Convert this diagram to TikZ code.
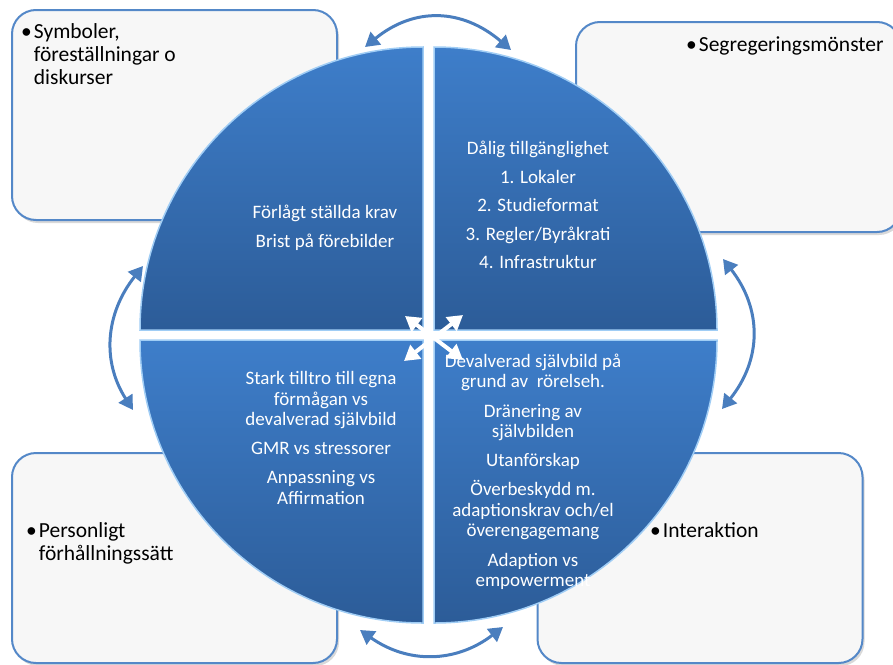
\documentclass[tikz,border=0pt]{standalone}
\usepackage{fontspec}
\setmainfont{Carlito}
\usetikzlibrary{arrows.meta}
\usetikzlibrary{shadows}
\definecolor{pblue}{RGB}{84,136,200}
\definecolor{pfill}{RGB}{247,247,247}
\definecolor{qlight}{RGB}{62,126,202}
\definecolor{qdark}{RGB}{44,92,152}
\definecolor{qedge}{RGB}{160,205,245}
\definecolor{ablue}{RGB}{74,126,190}

\begin{document}
\begin{tikzpicture}[x=1pt, y=-1pt,
    panel/.style={draw=pblue, line width=2pt, fill=pfill, rounded corners=24pt,
      drop shadow={opacity=0.3, shadow xshift=2pt, shadow yshift=-3pt},
      minimum width=325pt, minimum height=210pt, inner sep=0pt},
    quad/.style={top color=qlight, bottom color=qdark, draw=qedge, line width=1.5pt},
    intxt/.style={text=white, align=center, inner sep=0pt, font=\fontsize{19}{20.5}\selectfont},
    outtxt/.style={anchor=base west, inner sep=0pt, font=\fontsize{21.5}{23}\selectfont},
    cyc/.style={{Triangle[length=14pt, width=16pt]}-{Triangle[length=14pt, width=16pt]}, line width=3pt, draw=ablue},
    cross/.style={{Triangle[length=15pt, width=17pt]}-{Triangle[length=15pt, width=17pt]}, line width=4pt, draw=white}]
    \useasboundingbox (0, 0) rectangle (893, 664);

    \node [panel] (symb) at (174.5, 115) {};
    \node [panel] (segr) at (738.5, 127) {};
    \node [panel] (pers) at (174.5, 558) {};
    \node [panel] (inter) at (700, 558) {};

    \node [outtxt] (symbtxt) at (21, 38) {\textbullet\hspace{2pt}\begin{tabular}[t]{@{}l@{}}Symboler,\\föreställningar o\\diskurser\end{tabular}};
    \node [outtxt] (segrtxt) at (686, 51) {\textbullet\hspace{2pt}Segregeringsmönster};
    \node [outtxt] (perstxt) at (26, 537) {\textbullet\hspace{2pt}\begin{tabular}[t]{@{}l@{}}Personligt\\förhållningssätt\end{tabular}};
    \node [outtxt] (intertxt) at (650, 537) {\textbullet\hspace{2pt}Interaktion};

    \path [quad] (423, 330) -- (140, 330) arc [start angle=180, end angle=270, radius=283] -- cycle;
    \path [quad] (434, 330) -- (434, 47) arc [start angle=270, end angle=360, radius=283] -- cycle;
    \path [quad] (434, 340) -- (717, 340) arc [start angle=0, end angle=90, radius=283] -- cycle;
    \path [quad] (423, 340) -- (423, 623) arc [start angle=90, end angle=180, radius=283] -- cycle;

    \node [intxt] (krav) at (325, 228) {Förlågt ställda krav\\[8.5pt]Brist på förebilder};
    \node [intxt] (tillg) at (538, 205) {Dålig tillgänglighet\\[8pt]1. Lokaler\\[8pt]2. Studieformat\\[8pt]3. Regler/Byråkrati\\[8pt]4. Infrastruktur};
    \node [intxt] (tilltro) at (321, 438) {Stark tilltro till egna\\förmågan vs\\devalverad självbild\\[8pt]GMR vs stressorer\\[9pt]Anpassning vs\\Affirmation};
    \node [intxt] (devalv) at (533, 472) {Devalverad självbild på\\grund av\ \ rörelseh.\\[9pt]Dränering av\\självbilden\\[8pt]Utanförskap\\[9pt]Överbeskydd m.\\adaptionskrav och/el\\överengagemang\\[9pt]Adaption vs\\empowerment};

    \coordinate (tA) at (365, 47);
    \coordinate (tB) at (511, 50);
    \coordinate (rA) at (723, 259);
    \coordinate (rB) at (722, 409);
    \coordinate (bA) at (360, 630);
    \coordinate (bB) at (503, 627);
    \coordinate (lA) at (143, 266);
    \coordinate (lB) at (133, 410);
    \draw [cyc] (tA) .. controls (414, 7) and (462, 8) .. (tB);
    \draw [cyc] (rA) .. controls (762, 309) and (762, 359) .. (rB);
    \draw [cyc] (bA) .. controls (408, 664) and (456, 663) .. (bB);
    \draw [cyc] (lA) .. controls (105, 314) and (102, 362) .. (lB);

    \coordinate (cNW) at (405, 316);
    \coordinate (cSE) at (463, 360);
    \coordinate (cNE) at (463, 315);
    \coordinate (cSW) at (404, 361);
    \draw [cross] (cNW) -- (cSE);
    \draw [cross] (cNE) -- (cSW);
  \end{tikzpicture}
\end{document}
